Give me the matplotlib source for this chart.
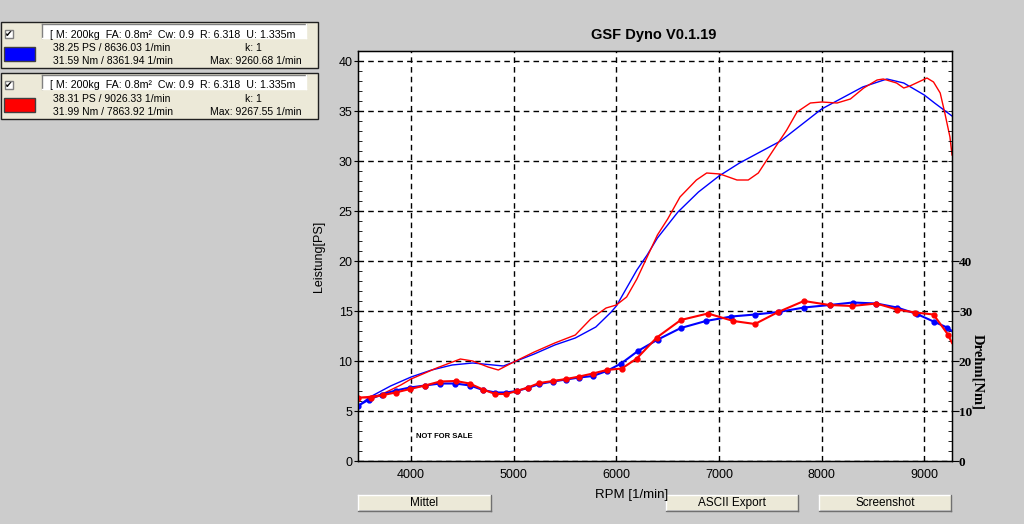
import matplotlib
matplotlib.use('Agg')
import matplotlib.pyplot as plt
from matplotlib.patches import Rectangle
from matplotlib.ticker import MultipleLocator

plt.rcParams['font.family'] = ['Liberation Sans', 'DejaVu Sans']

# Leistung [PS] - blau
rpm_p_blue = [3483, 3600, 3800, 4000, 4200, 4400, 4600, 4800, 4900, 5000, 5200, 5400,
              5600, 5800, 5950, 6000, 6100, 6200, 6300, 6400, 6600, 6800, 7000, 7200,
              7400, 7600, 7800, 8000, 8200, 8400, 8636, 8800, 9000, 9100, 9270]
ps_blue = [5.5, 6.4, 7.5, 8.4, 9.1, 9.6, 9.8, 9.6, 9.5, 9.9, 10.7, 11.6,
           12.3, 13.4, 14.9, 15.5, 17.3, 19.1, 20.6, 22.3, 24.9, 26.9, 28.5, 29.8,
           30.9, 32.0, 33.6, 35.2, 36.3, 37.4, 38.2, 37.8, 36.6, 35.8, 34.5]

# Leistung [PS] - rot
rpm_p_red = [3483, 3700, 3900, 4000, 4250, 4480, 4600, 4750, 4850, 5000, 5200, 5400,
             5600, 5750, 5900, 6000, 6100, 6200, 6300, 6400, 6500, 6620, 6780, 6880,
             7010, 7175, 7285, 7383, 7530, 7660, 7760, 7890, 8000, 8150, 8280, 8410,
             8540, 8600, 8730, 8800, 8860, 9026, 9090, 9155, 9200, 9250, 9270]
ps_red = [6.3, 6.6, 7.6, 8.2, 9.3, 10.2, 10.0, 9.4, 9.1, 9.9, 10.9, 11.8,
          12.6, 14.2, 15.3, 15.6, 16.4, 18.2, 20.4, 22.6, 24.2, 26.4, 28.1, 28.8,
          28.7, 28.1, 28.1, 28.8, 31.1, 33.1, 34.9, 35.8, 35.9, 35.8, 36.2, 37.3,
          38.1, 38.2, 37.8, 37.3, 37.5, 38.3, 37.9, 36.8, 34.8, 32.4, 30.6]

# Drehmoment [Nm] - blau
rpm_t_blue = [3480, 3591, 3714, 3850, 3990, 4136, 4283, 4430, 4575, 4700, 4820, 4926,
              5030, 5137, 5250, 5381, 5511, 5640, 5771, 5907, 6047, 6210, 6405, 6628,
              6872, 7121, 7353, 7580, 7830, 8077, 8305, 8532, 8734, 8928, 9090, 9222, 9270]
nm_blue = [11.0, 12.3, 13.3, 14.1, 14.7, 15.1, 15.5, 15.5, 15.1, 14.2, 13.7, 13.7,
           14.0, 14.6, 15.4, 15.9, 16.3, 16.7, 17.0, 18.0, 19.5, 22.0, 24.3, 26.6,
           28.0, 28.9, 29.3, 29.8, 30.7, 31.2, 31.7, 31.5, 30.7, 29.4, 27.9, 26.7, 26.0]

# Drehmoment [Nm] - rot
rpm_t_red = [3480, 3610, 3730, 3850, 3990, 4136, 4283, 4436, 4570, 4700, 4820, 4926,
             5030, 5137, 5250, 5381, 5511, 5640, 5771, 5907, 6053, 6199, 6394, 6628,
             6892, 7140, 7350, 7577, 7827, 8077, 8295, 8532, 8734, 8912, 9090, 9230, 9270]
nm_red = [12.7, 12.7, 13.2, 13.7, 14.4, 15.1, 15.9, 16.0, 15.5, 14.3, 13.4, 13.4,
          14.0, 14.7, 15.6, 16.0, 16.4, 16.9, 17.5, 18.2, 18.5, 20.5, 24.7, 28.2,
          29.5, 28.0, 27.4, 29.8, 32.0, 31.2, 31.0, 31.5, 30.3, 29.7, 29.3, 25.3, 23.6]

legend_rows = [
    ['38.25 PS / 8636.03 1/min', '31.59 Nm / 8361.94 1/min', 'Max: 9260.68 1/min', 'blue'],
    ['38.31 PS / 9026.33 1/min', '31.99 Nm / 7863.92 1/min', 'Max: 9267.55 1/min', 'red'],
]
info_text = '[ M: 200kg  FA: 0.8m\u00b2  Cw: 0.9  R: 6.318  U: 1.335m'
buttons = [('Mittel', 358, 491), ('ASCII Export', 666, 798), ('Screenshot', 819, 951)]

GREY = '#cccccc'
BEIGE = '#ece9d8'

fig = plt.figure(figsize=(10.24, 5.24), dpi=100, facecolor=GREY)

# pixel overlay for the GUI parts
bg = fig.add_axes([0, 0, 1, 1], zorder=0)
bg.set_xlim(0, 1024)
bg.set_ylim(524, 0)
bg.axis('off')


def edge3d(x0, y0, x1, y1, light, dark):
    bg.plot([x0, x1], [y0, y0], color=light, lw=1)
    bg.plot([x0, x0], [y0, y1], color=light, lw=1)
    bg.plot([x0, x1], [y1, y1], color=dark, lw=1)
    bg.plot([x1, x1], [y0, y1], color=dark, lw=1)


for i, (l1, l2, mx, col) in enumerate(legend_rows):
    y0 = 22 + i * 51
    bg.add_patch(Rectangle((0.5, y0), 317.5, 46, fc=BEIGE, ec='#202020', lw=1))
    # checkbox
    bg.add_patch(Rectangle((5, y0 + 8), 8, 8, fc='white', ec='#808080', lw=1))
    bg.text(9, y0 + 12.5, '\u2714', family=['DejaVu Sans'], fontsize=6.5,
            ha='center', va='center', color='black')
    # info field, text cut off at the top like in the original
    field = Rectangle((42, y0 + 2), 264, 13.5, fc='white', ec='none')
    bg.add_patch(field)
    edge3d(42, y0 + 2, 306, y0 + 15.5, '#808080', '#ffffff')
    t = bg.text(50, y0 + 15.5, info_text, fontsize=7.7, va='baseline', ha='left')
    t.set_clip_path(Rectangle((43, y0 + 7.5), 262, 8, transform=bg.transData))
    # colour swatch
    bg.add_patch(Rectangle((4, y0 + 25), 31, 14, fc=col, ec='#404040', lw=1))
    bg.text(53, y0 + 26, l1, fontsize=7.5, va='center', ha='left')
    bg.text(53, y0 + 39, l2, fontsize=7.5, va='center', ha='left')
    bg.text(253, y0 + 26, 'k: 1', fontsize=7.5, va='center', ha='center')
    bg.text(302, y0 + 39, mx, fontsize=7.5, va='center', ha='right')

for label, x0, x1 in buttons:
    bg.add_patch(Rectangle((x0, 495), x1 - x0, 15, fc=BEIGE, ec='none'))
    edge3d(x0, 495, x1, 510.5, '#ffffff', '#707070')
    bg.text((x0 + x1) / 2, 503, label, fontsize=8.5, ha='center', va='center')

fig.text(653.5 / 1024, 1 - 35 / 524, 'GSF Dyno V0.1.19', fontsize=10.5,
         fontweight='bold', ha='center', va='center')

# main chart
ax = fig.add_axes([358 / 1024, 63 / 524, 594 / 1024, 410 / 524], zorder=1)
ax.set_facecolor('white')
ax.set_xlim(3483, 9270)
ax.set_ylim(0, 41)
ax.xaxis.set_major_locator(MultipleLocator(1000))
ax.yaxis.set_major_locator(MultipleLocator(5))
ax.yaxis.set_minor_locator(MultipleLocator(1))
ax.grid(True, which='major', color='black', linestyle=(0, (4, 3)), lw=1)
ax.tick_params(axis='x', length=0, pad=6, labelsize=9)
ax.tick_params(axis='y', which='major', direction='out', length=3, pad=1, labelsize=9)
ax.tick_params(axis='y', which='minor', direction='in', length=3)
for s in ax.spines.values():
    s.set_linewidth(1)
    s.set_color('black')

ax.plot(rpm_p_blue, ps_blue, color='blue', lw=1)
ax.plot(rpm_p_red, ps_red, color='red', lw=1)

ax.set_xlabel('RPM [1/min]', fontsize=9.5)
ax.xaxis.set_label_coords(0.46, -0.068)
ax.set_ylabel('Leistung[PS]', fontsize=9)
ax.yaxis.set_label_coords(-0.0556, 0.5)
ax.text(4050, 2.5, 'NOT FOR SALE', fontsize=5.5, fontweight='bold', va='center')

ax2 = ax.twinx()
ax2.set_ylim(0, 82)
ax2.set_yticks([0, 10, 20, 30, 40])
ax2.yaxis.set_minor_locator(MultipleLocator(2))
ax2.tick_params(axis='y', which='major', direction='out', length=5, pad=0)
ax2.tick_params(axis='y', which='minor', direction='in', length=3)
for lab in ax2.get_yticklabels():
    lab.set_family(['Liberation Serif'])
    lab.set_fontweight('bold')
    lab.set_fontsize(9.5)

ax2.plot(rpm_t_blue, nm_blue, color='blue', lw=1.5, marker='o', markersize=3.5,
         markevery=slice(0, len(rpm_t_blue) - 1))
ax2.plot(rpm_t_red, nm_red, color='red', lw=1.5, marker='o', markersize=3.5,
         markevery=slice(0, len(rpm_t_red) - 1))

ax2.set_ylabel('Drehm[Nm]', rotation=-90, family=['Liberation Serif'],
               fontweight='bold', fontsize=10.5, va='center')
ax2.yaxis.set_label_coords(1.0435, 0.217)

fig.savefig('out.png', dpi=100, facecolor=GREY)
